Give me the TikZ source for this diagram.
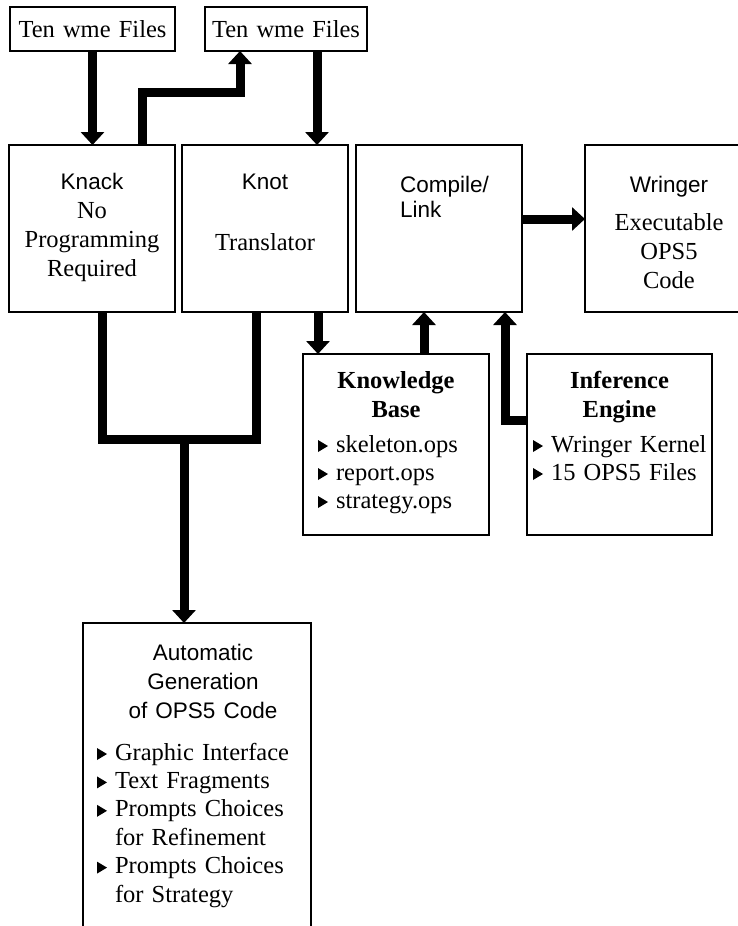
\documentclass[tikz,border=0pt]{standalone}
\usepackage{fontspec}
\setmainfont{Liberation Serif}
\setsansfont{Liberation Sans}
\usetikzlibrary{arrows.meta,positioning}

\newcommand{\itemmark}{\tikz[baseline=0pt]\fill (0pt,0pt) -- (0pt,12pt) -- (10pt,6pt) -- cycle;\hspace{8pt}}
\newcommand{\blocktitle}[1]{{\sffamily\fontsize{22.5}{27}\selectfont #1}}

\begin{document}
\begin{tikzpicture}[
    x=1pt, y=-1pt,
    >={Triangle[length=13pt,width=23pt]},
    block/.style={
		draw,
		line width=1.6pt,
		inner sep=0pt,
		outer sep=0pt,
		anchor=north west,
		font=\fontsize{24.5}{29}\selectfont
	},
	link/.style={->, line width=9pt},
	bar/.style={line width=9pt}
  ]
  \useasboundingbox (0,0) rectangle (738,926);

    % We start by placing the blocks
  \node [block, text width=165pt, text height=30pt, text depth=14pt] (tenA) at (10,7)
 {\centering Ten wme Files\par};
  \node [block, right=30pt of tenA, text width=162pt, text height=30pt, text depth=14pt] (tenB)
 {\centering Ten wme Files\par};

  \node [block, text width=166pt, text height=44pt, text depth=123pt] (knack) at (9,145)
 {\centering \blocktitle{Knack}\\ No\\ Programming\\ Required\par};
  \node [block, right=7pt of knack, text width=166pt, text height=44pt, text depth=123pt] (knot)
 {\centering \blocktitle{Knot}\\[32pt] Translator\par};
  \node [block, right=8pt of knot, text width=166pt, text height=47pt, text depth=120pt] (compile)
 {\raggedright\leftskip=44pt \sffamily\fontsize{22.5}{25}\selectfont Compile/\\ Link\par};
  \node [block, right=63pt of compile, text width=168pt, text height=47pt, text depth=120pt] (wringer)
 {\centering \blocktitle{Wringer}\\[9pt] Executable\\ OPS5\\ Code\par};

  \node [block, text width=186pt, text height=34pt, text depth=147pt] (kb) at (303,354)
 {{\centering\bfseries Knowledge\\ Base\par}\vspace{7pt}
  {\raggedright\leftskip=15pt\baselineskip=28pt \itemmark skeleton.ops\\ \itemmark report.ops\\ \itemmark strategy.ops\par}};
  \node [block, right=38pt of kb, text width=185pt, text height=34pt, text depth=147pt] (engine)
 {{\centering\bfseries Inference\\ Engine\par}\vspace{7pt}
  {\raggedright\leftskip=6pt\baselineskip=28pt \itemmark Wringer Kernel\\ \itemmark 15 OPS5 Files\par}};

  \node [block, text width=228pt, text height=37pt, text depth=320pt] (auto) at (83,623)
 {{\centering\leftskip=12pt plus 1fil\sffamily\fontsize{22.5}{29}\selectfont Automatic\\ Generation\\ of OPS5 Code\par}\vspace{13.6pt}
  {\raggedright\leftskip=14pt\baselineskip=28.4pt \itemmark Graphic Interface\\ \itemmark Text Fragments\\
   \itemmark Prompts Choices\\ \hspace*{18pt}for Refinement\\ \itemmark Prompts Choices\\ \hspace*{18pt}for Strategy\par}};

  % then the thick connectors
 \draw [link] (tenA.south) -- (tenA.south |- knack.north);
 \draw [link] ([xshift=50pt]knack.north) -- ++(0,-53) -| ([xshift=-46pt]tenB.south);
 \draw [link] ([xshift=31pt]tenB.south) -- ([xshift=31pt]tenB.south |- knot.north);
 \draw [link] ([yshift=9.5pt]compile.east) -- ([yshift=9.5pt]compile.east -| wringer.west);
 \draw [link] ([xshift=53pt]knot.south) -- ([xshift=53pt]knot.south |- kb.north);
 \draw [link] ([xshift=28pt]kb.north) -- ([xshift=28pt]kb.north |- compile.south);
 \draw [link] ([yshift=24.5pt]engine.west) -| ([xshift=66pt]compile.south);

 \coordinate (merge) at (184,439);
 \draw [bar] ([xshift=10pt]knack.south) |- (merge) -| ([xshift=-9pt]knot.south);
 \draw [link] (merge) -- (merge |- auto.north);

\end{tikzpicture}
\end{document}
